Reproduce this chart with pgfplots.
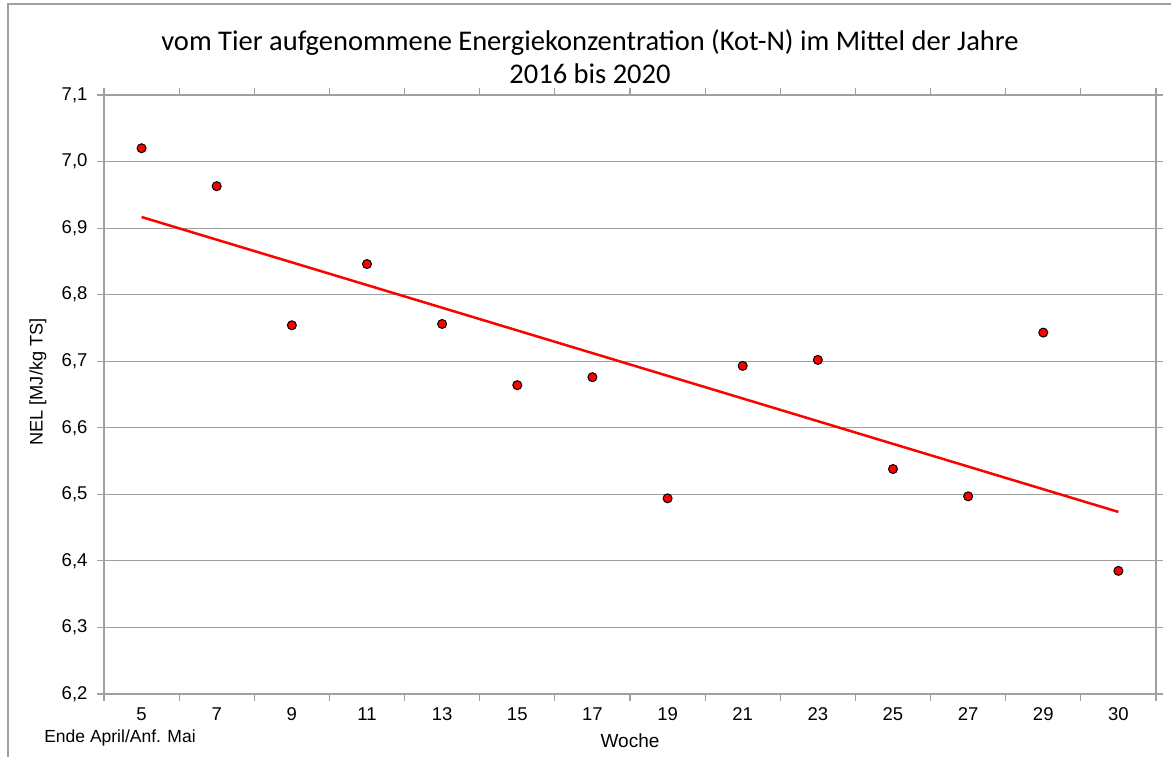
\documentclass[border=0pt]{standalone}
\usepackage{fontspec}
\setmainfont{Liberation Sans}
\newfontfamily\titlefont{Carlito}
\usepackage{pgfplots}
\usepackage{pgfplotstable}
\pgfplotsset{compat=1.18}
\definecolor{gridgray}{HTML}{A0A0A0}
\pgfplotstableread{
x y
0 7.020
1 6.963
2 6.754
3 6.846
4 6.756
5 6.664
6 6.676
7 6.494
8 6.693
9 6.702
10 6.538
11 6.497
12 6.743
13 6.385
}\datatable
\begin{document}
\begin{tikzpicture}[x=1pt,y=1pt]
\useasboundingbox (0,0) rectangle (1171,757);
\draw[gridgray, line width=1.2pt] (8,0) -- (8,753) -- (1171,753);
\node[font=\titlefont\fontsize{28.5}{33}\selectfont, align=center] at (590,700)
  {vom Tier aufgenommene Energiekonzentration (Kot-N) im Mittel der Jahre\\2016 bis 2020};
\node[font=\fontsize{18.2}{20}\selectfont, rotate=90] at (38,375) {NEL [MJ/kg TS]};
\node[font=\fontsize{19}{20}\selectfont] at (630,16) {Woche};
\node[font=\fontsize{17.5}{20}\selectfont] at (120,19) {Ende April/Anf. Mai};
\begin{axis}[
  at={(104pt,63pt)}, anchor=south west, scale only axis,
  width=1052pt, height=599pt,
  xmin=-0.5, xmax=13.5, ymin=6.2, ymax=7.1,
  axis line style={gridgray, line width=1.2pt},
  ytick={6.2,6.3,6.4,6.5,6.6,6.7,6.8,6.9,7.0,7.1},
  /pgf/number format/fixed,
  /pgf/number format/fixed zerofill,
  /pgf/number format/precision=1,
  /pgf/number format/use comma,
  /pgf/number format/assume math mode=true,
  ymajorgrids,
  major grid style={gridgray, line width=1.2pt},
  tick style={gridgray, line width=1.2pt},
  tick align=outside,
  major tick length=7pt,
  xtick={-0.5,0.5,...,13.5},
  xticklabels={},
  extra x ticks={0,1,...,13},
  extra x tick labels={5,7,9,11,13,15,17,19,21,23,25,27,29,30},
  extra x tick style={major tick length=0pt, grid=none},
  tick label style={font=\fontsize{18.5}{21}\selectfont, text=black},
  xticklabel style={yshift=-10pt},
  yticklabel style={xshift=-6pt},
  clip=false,
]
\addplot[red, line width=2.5pt, no marks] table[x=x, y={create col/linear regression={y=y}}] {\datatable};
\addplot[only marks, mark=*, mark size=4.5pt, mark options={fill=red, draw=black, line width=1pt}] table[x=x, y=y] {\datatable};
\end{axis}
\end{tikzpicture}
\end{document}
